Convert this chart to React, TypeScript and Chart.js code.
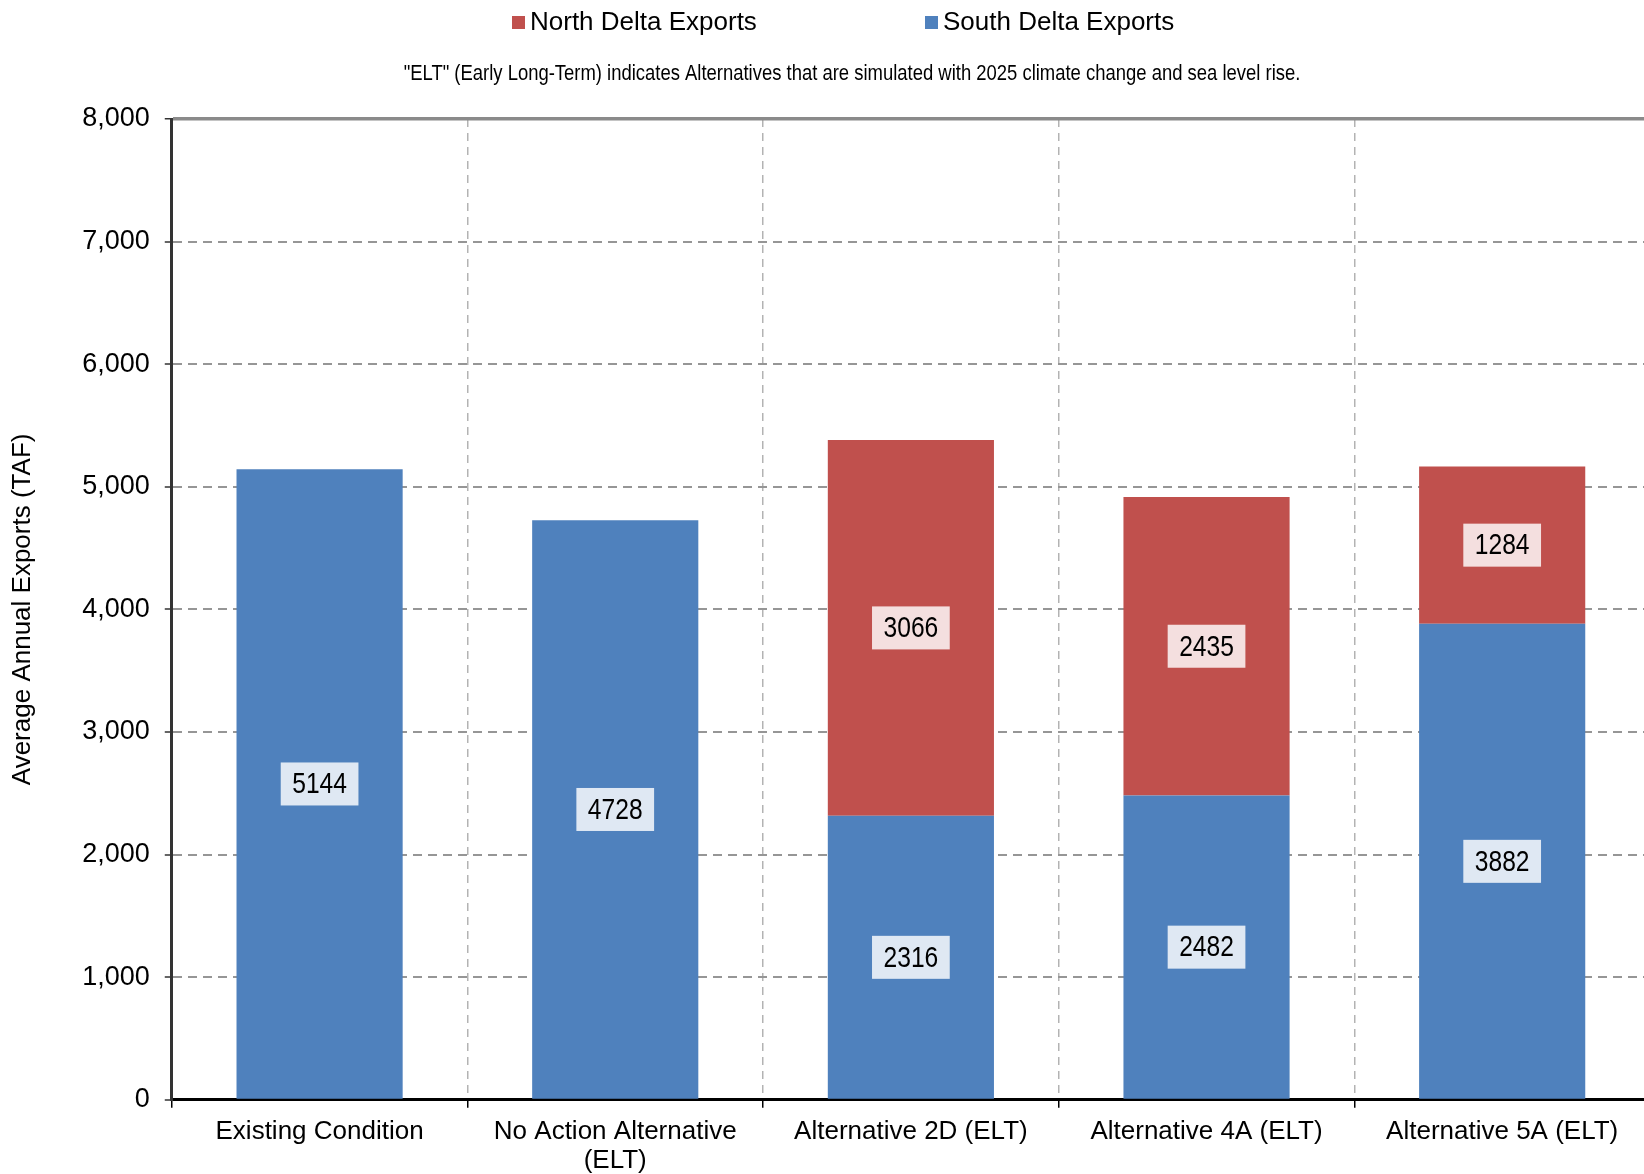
import React, { useEffect, useRef } from 'react';
import { Chart, registerables } from 'chart.js';

Chart.register(...registerables);

// ---- data ----
const categories: (string | string[])[] = [
  'Existing Condition',
  ['No Action Alternative', '(ELT)'],
  'Alternative 2D (ELT)',
  'Alternative 4A (ELT)',
  'Alternative 5A (ELT)',
];
const southDeltaExports: (number | null)[] = [5144, 4728, 2316, 2482, 3882];
const northDeltaExports: (number | null)[] = [null, null, 3066, 2435, 1284];
const seriesNames = ['North Delta Exports', 'South Delta Exports'];
const yTickValues = [0, 1000, 2000, 3000, 4000, 5000, 6000, 7000, 8000];
const subtitleText =
  '"ELT" (Early Long-Term) indicates Alternatives that are simulated with 2025 climate change and sea level rise.';
const yAxisTitle = 'Average Annual Exports (TAF)';

// ---- styles ----
const BLUE = '#4F81BD';
const RED = '#C0504D';
const SANS = '"Liberation Sans", Arial, sans-serif';
const NARROW_SCALE = 0.82;
const W = 1650;
const H = 1185;

const headerPlugin = {
  id: 'header',
  afterDraw(chart: any) {
    const ctx = chart.ctx;
    ctx.save();
    // legend (North first, then South)
    const items = [
      { label: chart.data.datasets[1].label, color: chart.data.datasets[1].backgroundColor, x: 512 },
      { label: chart.data.datasets[0].label, color: chart.data.datasets[0].backgroundColor, x: 925 },
    ];
    ctx.font = `26px ${SANS}`;
    ctx.textBaseline = 'middle';
    ctx.textAlign = 'left';
    items.forEach((it) => {
      ctx.fillStyle = it.color;
      ctx.fillRect(it.x, 16, 13, 13);
      ctx.fillStyle = '#000';
      ctx.fillText(it.label, it.x + 18, 23);
    });
    // subtitle (condensed)
    ctx.font = `22.5px ${SANS}`;
    ctx.textAlign = 'center';
    ctx.fillStyle = '#000';
    ctx.translate(852, 74);
    ctx.scale(NARROW_SCALE, 1);
    ctx.fillText(subtitleText, 0, 0);
    ctx.restore();
  },
};

const valueLabelPlugin = {
  id: 'valueLabels',
  afterDatasetsDraw(chart: any) {
    const ctx = chart.ctx;
    ctx.save();
    ctx.font = `30px ${SANS}`;
    ctx.textAlign = 'center';
    ctx.textBaseline = 'middle';
    chart.data.datasets.forEach((ds: any, di: number) => {
      const meta = chart.getDatasetMeta(di);
      meta.data.forEach((bar: any, i: number) => {
        const v = ds.data[i];
        if (v === null || v === undefined) return;
        const { x, y, base } = bar.getProps(['x', 'y', 'base'], true);
        const cy = (y + base) / 2;
        const text = String(v);
        const tw = ctx.measureText(text).width * NARROW_SCALE;
        const bw = tw + 23;
        const bh = 43;
        ctx.fillStyle = 'rgba(255,255,255,0.82)';
        ctx.fillRect(x - bw / 2, cy - bh / 2, bw, bh);
        ctx.fillStyle = '#000';
        ctx.save();
        ctx.translate(x, cy + 1);
        ctx.scale(NARROW_SCALE, 1);
        ctx.fillText(text, 0, 0);
        ctx.restore();
      });
    });
    ctx.restore();
  },
};

export default function App() {
  const ref = useRef<HTMLCanvasElement | null>(null);

  useEffect(() => {
    if (!ref.current) return;
    const chart = new Chart(ref.current, {
      type: 'bar',
      data: {
        labels: categories as any,
        datasets: [
          {
            label: seriesNames[1],
            data: southDeltaExports,
            backgroundColor: BLUE,
            barPercentage: 0.562,
            categoryPercentage: 1,
          },
          {
            label: seriesNames[0],
            data: northDeltaExports,
            backgroundColor: RED,
            barPercentage: 0.562,
            categoryPercentage: 1,
          },
        ],
      },
      options: {
        animation: false,
        responsive: false,
        devicePixelRatio: 1,
        layout: { padding: { top: 119, left: 0, right: 0, bottom: 0 } },
        plugins: {
          legend: { display: false },
          title: { display: false },
          tooltip: { enabled: false },
        },
        scales: {
          x: {
            stacked: true,
            offset: true,
            grid: {
              offset: true,
              color: '#b3b3b3',
              lineWidth: 1.5,
              tickColor: '#000',
              tickLength: 8,
              tickWidth: 1.5,
            },
            border: { display: true, color: '#000', width: 3, dash: [8, 6] },
            ticks: {
              color: '#000',
              font: { family: SANS, size: 26, lineHeight: 1.1 },
              padding: 10,
              maxRotation: 0,
              autoSkip: false,
            },
          },
          y: {
            stacked: true,
            min: 0,
            max: 8000,
            afterBuildTicks: (scale: any) => {
              scale.ticks = yTickValues.map((v) => ({ value: v }));
            },
            grid: {
              color: (c: any) => (c.tick && c.tick.value === 8000 ? '#8a8a8a' : '#969696'),
              lineWidth: (c: any) => (c.tick && c.tick.value === 8000 ? 3.5 : 2),
              tickColor: '#333',
              tickLength: 7,
              tickWidth: 1.5,
            },
            border: {
              display: true,
              color: '#333',
              width: 3,
              dash: (c: any) => (c.tick && c.tick.value === 8000 ? [] : [9, 6]),
            } as any,
            ticks: {
              color: '#000',
              font: { family: SANS, size: 27 },
              padding: 15,
              callback: (v: any) => Number(v).toLocaleString('en-US'),
            },
            title: {
              display: true,
              text: yAxisTitle,
              color: '#000',
              font: { family: SANS, size: 26 },
              padding: { top: 7, bottom: 29 },
            },
          },
        },
      },
      plugins: [valueLabelPlugin, headerPlugin],
    });
    return () => chart.destroy();
  }, []);

  return (
    <div
      style={{
        position: 'fixed',
        left: 0,
        top: 0,
        width: '100vw',
        height: '100vh',
        overflow: 'hidden',
        background: '#fff',
      }}
    >
      <canvas ref={ref} width={W} height={H} style={{ width: W, height: H, display: 'block' }} />
    </div>
  );
}
